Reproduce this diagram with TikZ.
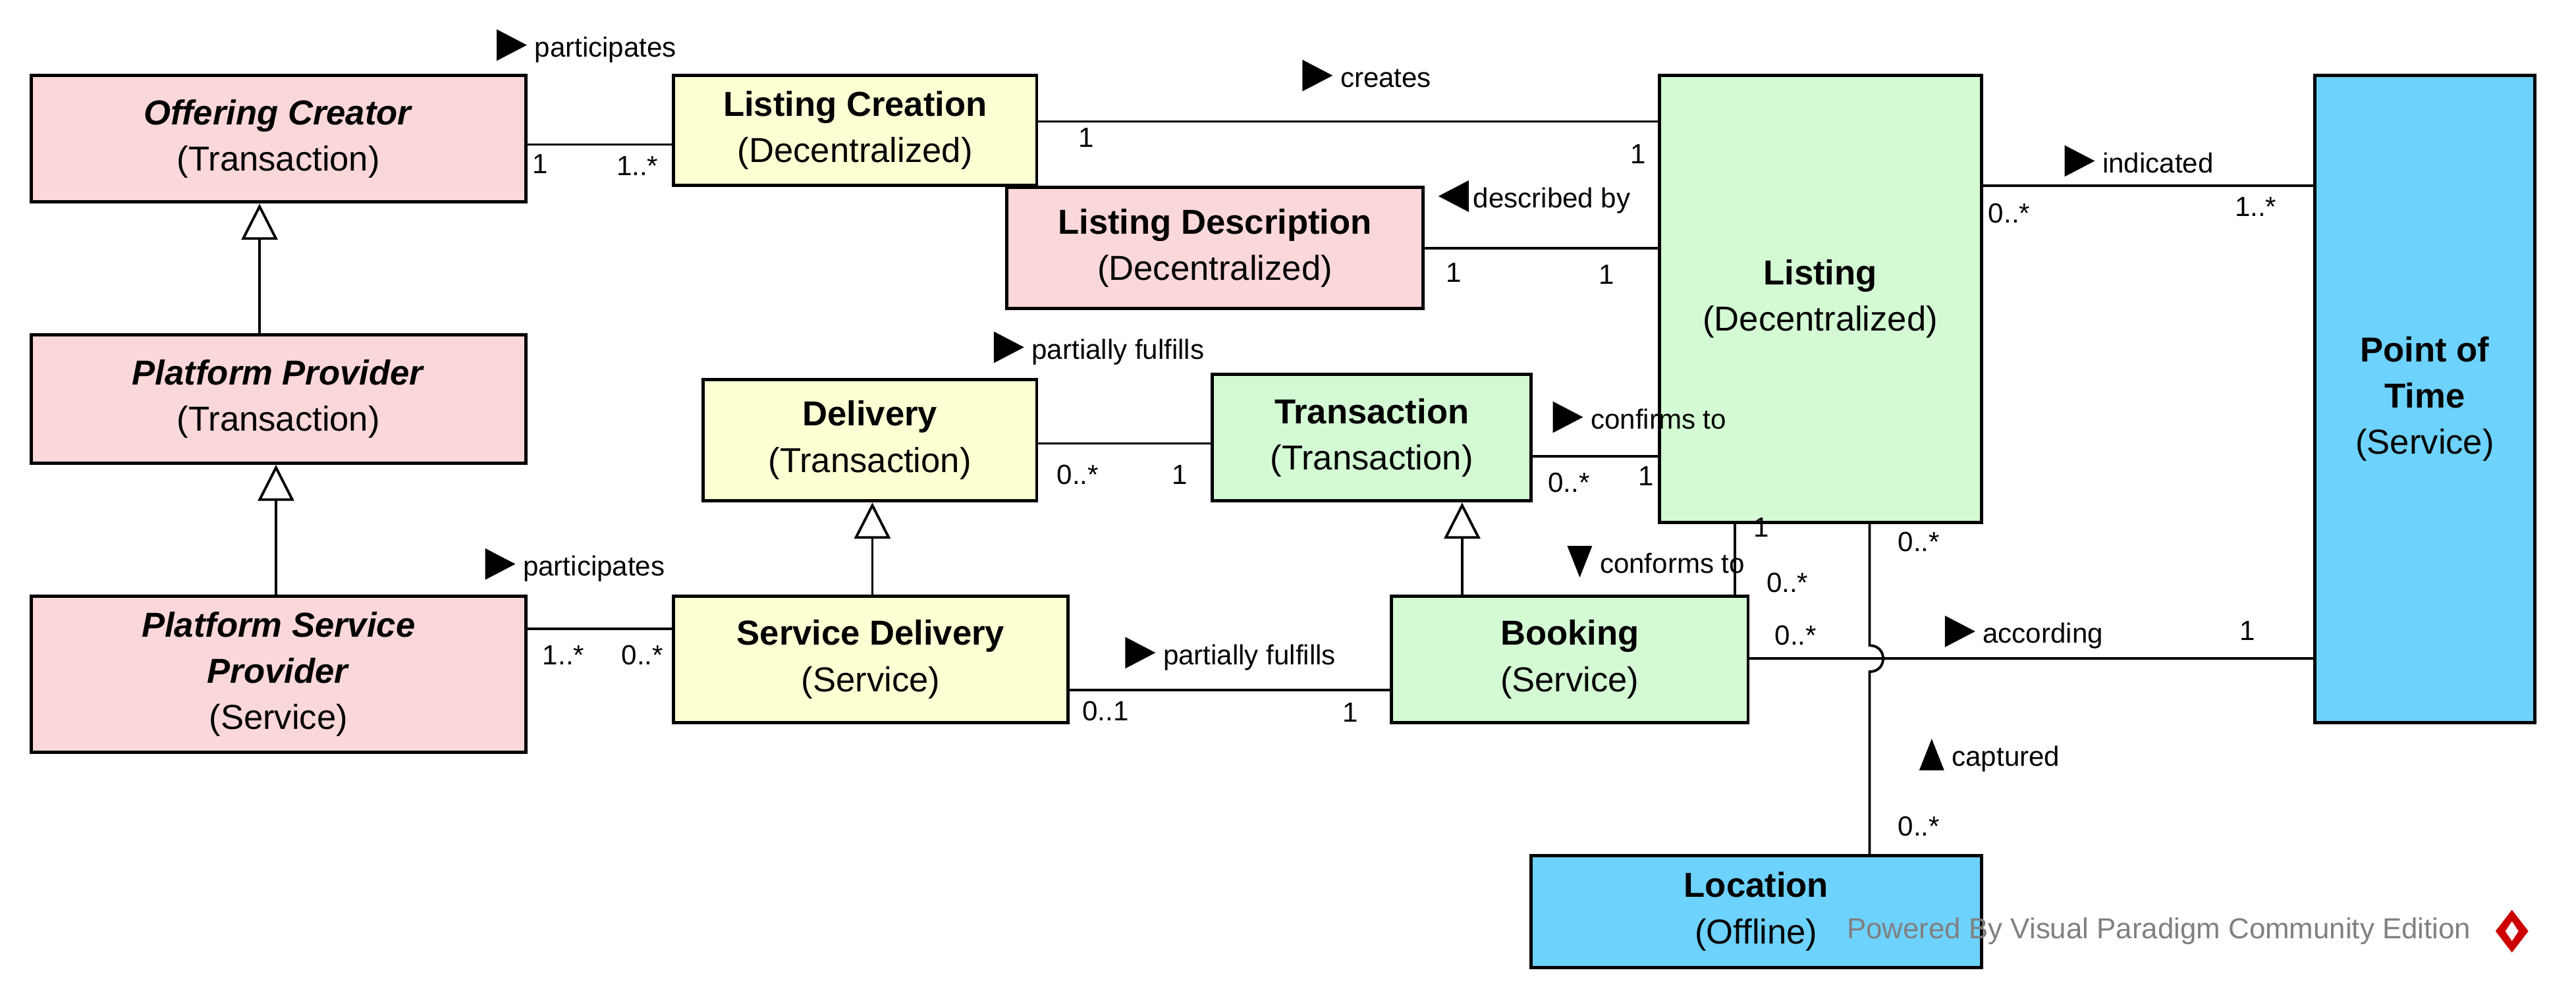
\documentclass[tikz,border=0pt]{standalone}
\usepackage{fontspec}
\setmainfont{Liberation Sans}
\usetikzlibrary{arrows.meta,calc}
\definecolor{cpink}{HTML}{FAD7D9}
\definecolor{cyel}{HTML}{FFFFD4}
\definecolor{cgreen}{HTML}{D4FAD4}
\definecolor{cblue}{HTML}{6DD2FD}
\newcommand{\tra}{\tikz[baseline=0pt,x=1cm,y=1cm]\fill (0,-0.06)--(0.46,0.18)--(0,0.42)--cycle;}
\newcommand{\tla}{\tikz[baseline=0pt,x=1cm,y=1cm]\fill (0.46,-0.06)--(0,0.18)--(0.46,0.42)--cycle;}
\newcommand{\tda}{\tikz[baseline=0pt,x=1cm,y=1cm]\fill (0,0.42)--(0.38,0.42)--(0.19,-0.06)--cycle;}
\newcommand{\tua}{\tikz[baseline=0pt,x=1cm,y=1cm]\fill (0,-0.06)--(0.38,-0.06)--(0.19,0.42)--cycle;}
\tikzset{
  box/.style={draw=black, line width=1.4pt, fill=#1, align=center, inner sep=2pt,
    font=\fontsize{15}{20}\selectfont},
  lbl/.style={font=\fontsize{12}{14}\selectfont, inner sep=0pt},
  conn/.style={line width=1.1pt},
  gen/.style={line width=1.1pt, -{Triangle[open, width=0.55cm, length=0.55cm, fill=white, line width=1.1pt]}},
}
\begin{document}
\begin{tikzpicture}[x=0.025cm, y=-0.025cm]
\useasboundingbox[fill=white] (0,0) rectangle (1568,600.6);
% boxes
\node[box=cpink, minimum width=7.525cm, minimum height=1.925cm] (oc) at (169.5,84.5) {\textbf{\textit{Offering Creator}}\\(Transaction)};
\node[box=cpink, minimum width=7.525cm, minimum height=1.95cm] (pp) at (169.5,243) {\textbf{\textit{Platform Provider}}\\(Transaction)};
\node[box=cpink, minimum width=7.525cm, minimum height=2.375cm] (psp) at (169.5,410.5) {\textbf{\textit{Platform Service}}\\\textbf{\textit{Provider}}\\(Service)};
\node[box=cyel, minimum width=5.525cm, minimum height=1.675cm] (lc) at (520.5,79.5) {\textbf{Listing Creation}\\(Decentralized)};
\node[box=cpink, minimum width=6.325cm, minimum height=1.85cm] (ld) at (739.5,151) {\textbf{Listing Description}\\(Decentralized)};
\node[box=cyel, minimum width=5.075cm, minimum height=1.85cm] (del) at (529.5,268) {\textbf{Delivery}\\(Transaction)};
\node[box=cgreen, minimum width=4.85cm, minimum height=1.925cm] (tr) at (835,266.5) {\textbf{Transaction}\\(Transaction)};
\node[box=cyel, minimum width=6cm, minimum height=1.925cm] (sd) at (530,401.5) {\textbf{Service Delivery}\\(Service)};
\node[box=cgreen, minimum width=5.425cm, minimum height=1.925cm] (bk) at (955.5,401.5) {\textbf{Booking}\\(Service)};
\node[box=cgreen, minimum width=4.9cm, minimum height=6.8cm] (li) at (1108,182) {\textbf{Listing}\\(Decentralized)};
\node[box=cblue, minimum width=3.35cm, minimum height=9.85cm] (pt) at (1476,243) {\textbf{Point of}\\\textbf{Time}\\(Service)};
\node[box=cblue, minimum width=6.85cm, minimum height=1.7cm] (loc) at (1069,555) {\textbf{Location}\\(Offline)};
% helper coordinates
\coordinate (y88) at (0,88);
\coordinate (y74) at (0,74);
\coordinate (y151) at (0,151);
\coordinate (y113) at (0,113);
\coordinate (y270) at (0,270);
\coordinate (y278) at (0,278);
\coordinate (y383) at (0,383);
\coordinate (y420) at (0,420);
\coordinate (y401) at (0,401);
\coordinate (x158) at (158,0);
\coordinate (x168) at (168,0);
\coordinate (x531) at (531,0);
\coordinate (x890) at (890,0);
\coordinate (x1056) at (1056,0);
\coordinate (x1138) at (1138,0);
\coordinate (hopA) at (1138,393);
\coordinate (hopB) at (1138,409);
% associations
\draw[conn] (oc.east |- y88) -- (lc.west |- y88);
\draw[conn] (lc.east |- y74) -- (li.west |- y74);
\draw[conn] (ld.east |- y151) -- (li.west |- y151);
\draw[conn] (li.east |- y113) -- (pt.west |- y113);
\draw[conn] (del.east |- y270) -- (tr.west |- y270);
\draw[conn] (tr.east |- y278) -- (li.west |- y278);
\draw[conn] (psp.east |- y383) -- (sd.west |- y383);
\draw[conn] (sd.east |- y420) -- (bk.west |- y420);
\draw[conn] (bk.north -| x1056) -- (li.south -| x1056);
\draw[conn] (bk.east |- y401) -- (pt.west |- y401);
\draw[conn] (li.south -| x1138) -- (hopA) .. controls (1149,393) and (1149,409) .. (hopB) -- (loc.north -| x1138);
% generalizations
\draw[gen] (pp.north -| x158) -- (oc.south -| x158);
\draw[gen] (psp.north -| x168) -- (pp.south -| x168);
\draw[gen] (sd.north -| x531) -- (del.south -| x531);
\draw[gen] (bk.north -| x890) -- (tr.south -| x890);
% labels
\node[lbl] (l1) at (357,28) {\tra\ participates};
\node[lbl] (m1) at (329,100) {1};
\node[lbl] (m2) at (388,101) {1..*};
\node[lbl] (l2) at (832,46) {\tra\ creates};
\node[lbl] (m3) at (661,84) {1};
\node[lbl] (m4) at (997,94) {1};
\node[lbl] (l3) at (934,120) {\tla\,described by};
\node[lbl] (m5) at (885,166) {1};
\node[lbl] (m6) at (978,167) {1};
\node[lbl] (l4) at (1302,98) {\tra\ indicated};
\node[lbl] (m7) at (1223,130) {0..*};
\node[lbl] (m8) at (1373,126) {1..*};
\node[lbl] (l5) at (669,212) {\tra\ partially fulfills};
\node[lbl] (m9) at (656,289) {0..*};
\node[lbl] (m10) at (718,289) {1};
\node[lbl] (l6) at (998,254) {\tra\ confirms to};
\node[lbl] (m11) at (955,294) {0..*};
\node[lbl] (m12) at (1002,290) {1};
\node[lbl] (l7) at (350,344) {\tra\ participates};
\node[lbl] (m13) at (343,399) {1..*};
\node[lbl] (m14) at (391,399) {0..*};
\node[lbl] (l8) at (749,398) {\tra\ partially fulfills};
\node[lbl] (m15) at (673,433) {0..1};
\node[lbl] (m16) at (822,434) {1};
\node[lbl] (l9) at (1008,342) {\tda\ conforms to};
\node[lbl] (m17) at (1072,321) {1};
\node[lbl] (m18) at (1088,355) {0..*};
\node[lbl] (m19) at (1168,330) {0..*};
\node[lbl] (l10) at (1232,385) {\tra\ according};
\node[lbl] (m20) at (1093,387) {0..*};
\node[lbl] (m21) at (1368,384) {1};
\node[lbl] (l11) at (1211,460) {\tua\ captured};
\node[lbl] (m22) at (1168,503) {0..*};
% watermark
\node[font=\fontsize{12.5}{14}\selectfont, text=black!50, inner sep=0pt, anchor=west] (wm) at (1124,567) {Powered By Visual Paradigm Community Edition};
\fill[red!80!black] (1529,554) -- (1539,567) -- (1529,580) -- (1519,567) -- cycle;
\fill[white] (1529,561) -- (1533,567) -- (1529,573) -- (1525,567) -- cycle;
\end{tikzpicture}
\end{document}
